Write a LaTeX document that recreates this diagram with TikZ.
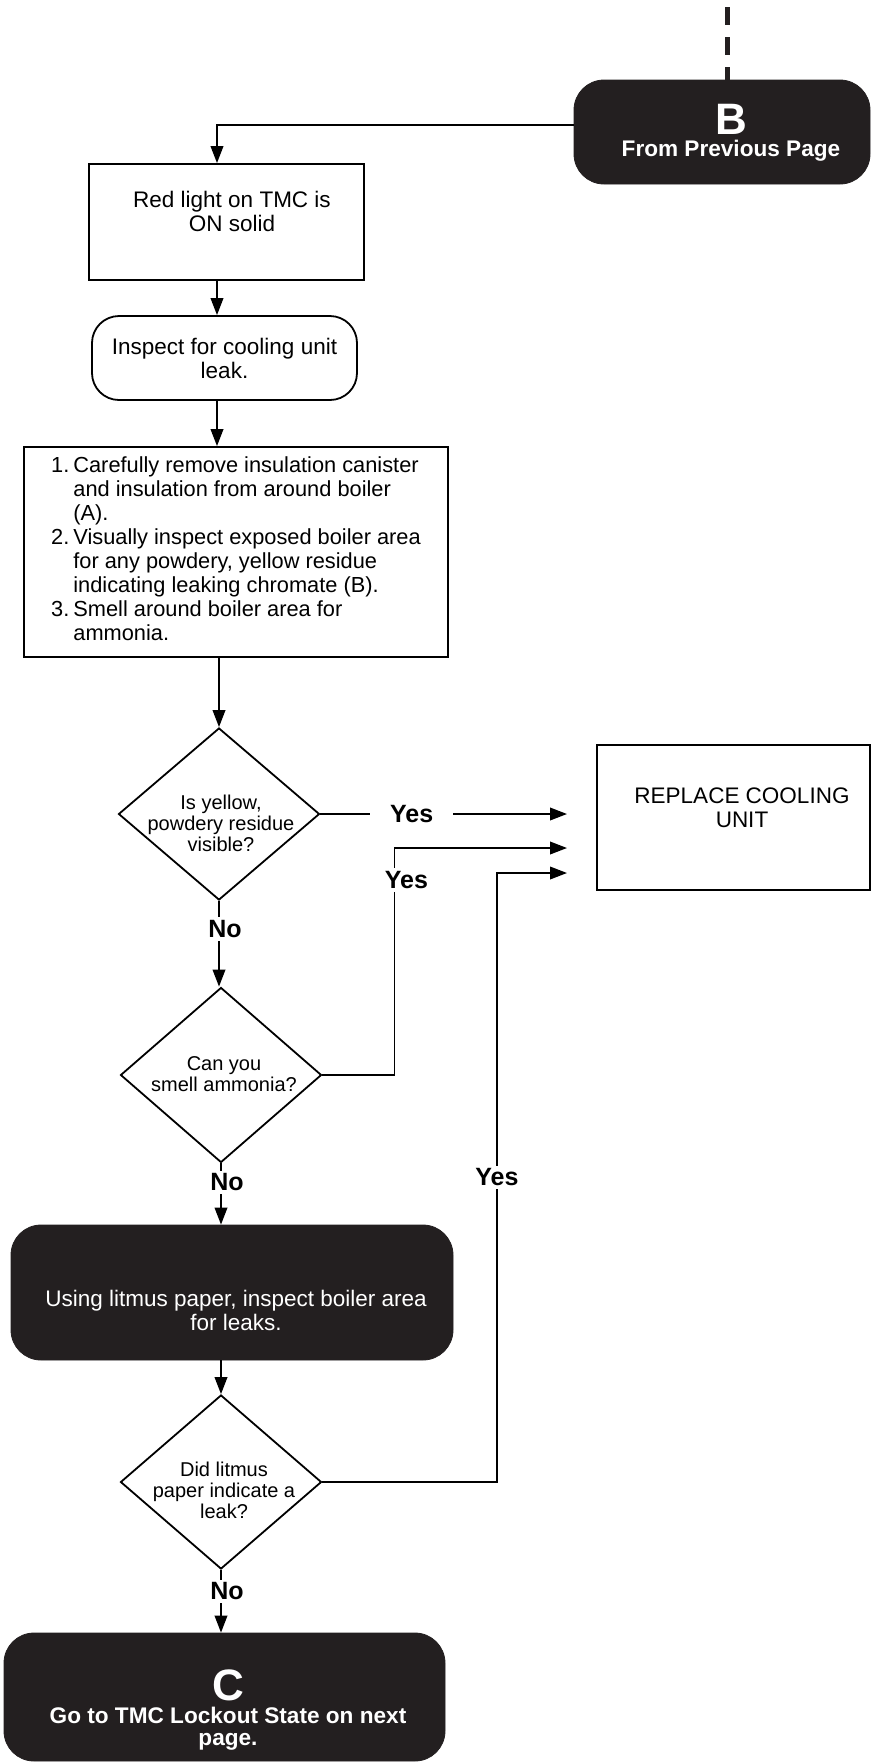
\documentclass[tikz,border=0pt]{standalone}
\usepackage{fontspec}
\setmainfont{Liberation Sans}
\usetikzlibrary{positioning,arrows.meta,shapes.geometric}
\definecolor{panel}{HTML}{231F20}
\newcommand{\bigmark}[1]{{\fontsize{22}{22}\selectfont #1}}

\begin{document}
\begin{tikzpicture}[x=0.5pt, y=-0.5pt,
  txt/.style={font=\fontsize{11.25}{12}\selectfont, align=center},
  box/.style={draw, line width=0.9pt, inner sep=0pt},
  roundbox/.style={box, rounded corners=13.5pt},
  darkbox/.style={fill=panel, draw=panel, rounded corners=15pt},
  decision/.style={draw, diamond, line width=0.9pt, inner sep=0pt},
  qtext/.style={font=\fontsize{10}{10.5}\selectfont, align=center},
  lbl/.style={font=\fontsize{12.5}{13}\selectfont\bfseries, fill=white, inner sep=1.5pt},
  flow/.style={line width=0.9pt, -{Triangle[length=8.5pt,width=6.3pt]}},
  contline/.style={draw=panel, line width=2.5pt, dash pattern=on 9pt off 6pt},
  wtext/.style={font=\fontsize{11.3}{12}\selectfont\bfseries, text=white, align=center, inner sep=0pt}
]
\useasboundingbox (0,0) rectangle (872,1763);

\node[darkbox, minimum width=148pt, minimum height=52pt] (prev) at (722,132) {};
\node[wtext] (prevtxt) at (731,132.5) {\bigmark{B}\\[-1pt]From Previous Page};

\node[box, minimum width=137.5pt, minimum height=58pt] (red) at (226.5,222) {};
\node[txt] (redtxt) at (232,211) {Red light on TMC is\\ON solid};

\node[roundbox, txt, minimum width=132.5pt, minimum height=42pt] (insp) at (224.5,358)
    {Inspect for cooling unit\\leak.};

\node[box, minimum width=212pt, minimum height=105pt,
      font=\fontsize{10.9}{12}\selectfont] (steps) at (236,552)
    {\begin{tabular}{@{}r@{\hspace{2pt}}l@{}}
     1. & Carefully remove insulation canister\\
        & and insulation from around boiler\\
        & (A).\\
     2. & Visually inspect exposed boiler area\\
        & for any powdery, yellow residue\\
        & indicating leaking chromate (B).\\
     3. & Smell around boiler area for\\
        & ammonia.
     \end{tabular}};

\node[decision, minimum width=100.5pt, minimum height=86pt] (qres) at (219,814) {};
\node[qtext] (qrestxt) at (221,823) {Is yellow,\\powdery residue\\visible?};

\node[decision, minimum width=100.5pt, minimum height=87.5pt] (qsmell) at (221,1075) {};
\node[qtext] (qsmelltxt) at (224,1074) {Can you\\smell ammonia?};

\node[darkbox, minimum width=221pt, minimum height=67.5pt] (litmus) at (232,1292.5) {};
\node[txt, text=white] (littxt) at (236,1310) {Using litmus paper, inspect boiler area\\for leaks.};

\node[decision, minimum width=100.5pt, minimum height=87pt] (qlit) at (221,1482) {};
\node[qtext] (qlittxt) at (224,1490) {Did litmus\\paper indicate a\\leak?};

\node[darkbox, minimum width=220.5pt, minimum height=64pt] (next) at (224.5,1697) {};
\node[wtext] (nexttxt) at (228,1710.5)
    {\bigmark{C}\\[-0.5pt]Go to TMC Lockout State on next\\[-1pt]page.};

\node[box, minimum width=136.5pt, minimum height=72.5pt] (repl) at (733.5,817.5) {};
\node[txt] (repltxt) at (742,808) {REPLACE COOLING\\UNIT};

\coordinate (cont) at (727,7);
\coordinate (col) at (217,0);
\coordinate (gate) at (567,0);
\coordinate (in2) at (567,848);
\coordinate (in3) at (567,873);

\draw[contline] (cont) -- (cont |- prev.north);
\draw[flow] ([yshift=3.5pt]prev.west) -| (col |- red.north);
\draw[flow] (col |- red.south) -- (col |- insp.north);
\draw[flow] (col |- insp.south) -- (col |- steps.north);
\draw[flow] (qres.north |- steps.south) -- (qres.north);
\draw[flow] (qres.south) -- node[lbl, pos=0.33, xshift=3pt] {No} (qres.south |- qsmell.north);
\draw[flow] (qsmell.south) -- node[lbl, pos=0.31, xshift=3pt] {No} (qsmell.south |- litmus.north);
\draw[flow] (qlit.north |- litmus.south) -- (qlit.north);
\draw[flow] (qlit.south) -- node[lbl, pos=0.34, xshift=3pt] {No} (qlit.south |- next.north);

\draw[flow] (qres.east) -- node[lbl, pos=0.37, inner xsep=10pt] {Yes} (qres.east -| gate);
\draw[flow] (qsmell.east) -- ++(72,0) |- node[lbl, pos=0.43, xshift=6pt] {Yes} (in2);
\draw[flow] (qlit.east) -- ++(174.5,0) |- node[lbl, pos=0.25] {Yes} (in3);
\end{tikzpicture}
\end{document}
